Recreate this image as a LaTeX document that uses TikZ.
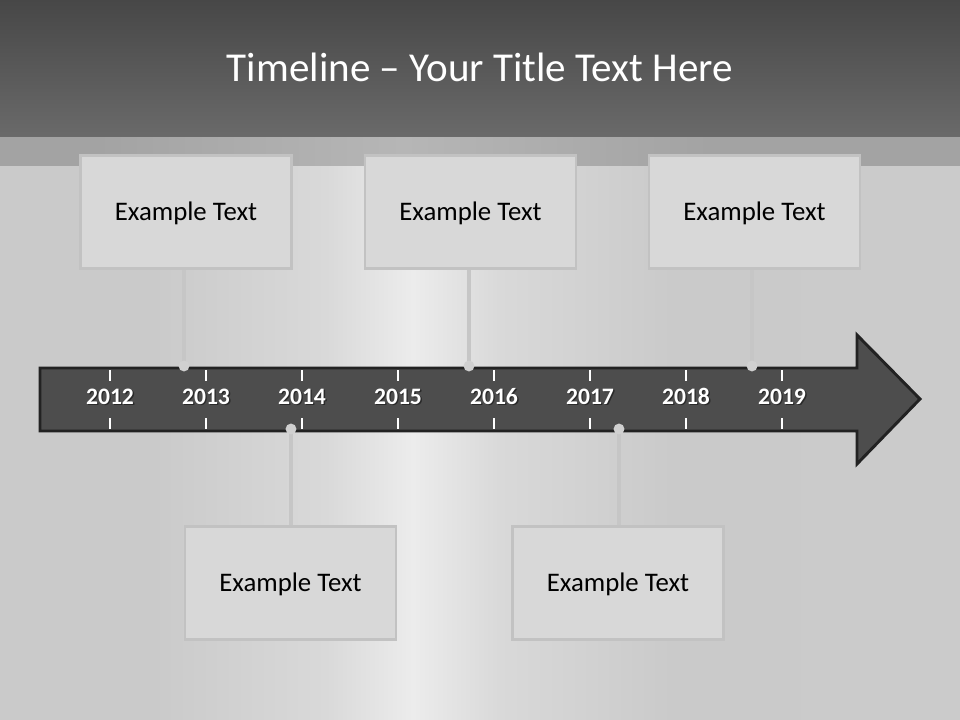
\documentclass[tikz,border=0pt]{standalone}
\usepackage{fontspec}
\setmainfont{Carlito}
\definecolor{bgside}{HTML}{CACACA}
\definecolor{bgside2}{HTML}{CDCDCD}
\definecolor{bgmid}{HTML}{D9D9D9}
\definecolor{bglight}{HTML}{ECECEC}
\definecolor{bandside}{HTML}{A3A3A3}
\definecolor{bandlight}{HTML}{B6B6B6}
\definecolor{titletop}{HTML}{474747}
\definecolor{titlebot}{HTML}{6A6A6A}
\definecolor{boxfill}{HTML}{D8D8D8}
\definecolor{boxline}{HTML}{C2C2C2}
\definecolor{linkc}{HTML}{C6C6C6}
\definecolor{dotc}{HTML}{D0D0D0}
\definecolor{arrowfill}{HTML}{4D4D4D}
\definecolor{arrowline}{HTML}{222222}
\pgfdeclarehorizontalshading{metalbg}{100bp}{color(0bp)=(bgside); color(33bp)=(bgside); color(42bp)=(bgmid); color(46.5bp)=(bglight); color(51bp)=(bgmid); color(60bp)=(bgside); color(100bp)=(bgside2)}
\pgfdeclarehorizontalshading{metalband}{100bp}{color(0bp)=(bandside); color(30bp)=(bandside); color(46bp)=(bandlight); color(62bp)=(bandside); color(100bp)=(bandside)}
\tikzset{
  textbox/.style={draw=boxline, line width=2.2pt, fill=boxfill, minimum width=158.25pt, minimum height=84.75pt, inner sep=0pt, font=\fontsize{20.1pt}{24pt}\selectfont, text=black, text height=12.9pt, text depth=0pt},
  link/.style={draw=linkc, line width=3pt},
  dotmark/.style={fill=dotc},
  tickline/.style={draw=white, line width=1pt},
  year/.style={font=\fontsize{17.7pt}{21pt}\selectfont\bfseries, text=white, anchor=base, inner sep=0pt},
  yearshadow/.style={year, text=black, opacity=0.45},
}
\begin{document}
\begin{tikzpicture}[x=0.75pt,y=-0.75pt]
\useasboundingbox (0,0) rectangle (960,720);
% background
\shade[shading=metalbg] (0,0) rectangle (960,720);
\shade[shading=metalband] (0,137) rectangle (960,166);
\shade[top color=titletop, bottom color=titlebot] (0,0) rectangle (960,137);
\node[text=white, font=\fontsize{30.8pt}{36pt}\selectfont] (title) at (480,67) {Timeline – Your Title Text Here};
% arrow
\draw[fill=arrowfill, draw=arrowline, line width=2.2pt, line join=miter]
  (40,368) -- (857,368) -- (857,335) -- (920,399) -- (857,464) -- (857,431) -- (40,431) -- cycle;
\foreach \i/\y in {0/2012,1/2013,2/2014,3/2015,4/2016,5/2017,6/2018,7/2019}{
  \pgfmathsetmacro{\xx}{110+96*\i}
  \draw[tickline] (\xx,370) -- (\xx,381);
  \draw[tickline] (\xx,418) -- (\xx,429);
  \node[yearshadow] at (\xx+1.3,405.3) {\y};
  \node[year] (y\y) at (\xx,404) {\y};
}
% boxes
\node[textbox] (b1) at (186,212) {Example Text};
\node[textbox] (b2) at (470.5,212) {Example Text};
\node[textbox] (b3) at (754.5,212) {Example Text};
\node[textbox] (b4) at (290.5,583) {Example Text};
\node[textbox] (b5) at (618,583) {Example Text};
% dots
\coordinate (d1) at (184,366);
\coordinate (d2) at (469,366);
\coordinate (d3) at (752,366);
\coordinate (d4) at (291,429);
\coordinate (d5) at (619,429);
\draw[link] (b1.south -| d1) -- (d1);
\draw[link] (b2.south -| d2) -- (d2);
\draw[link] (b3.south -| d3) -- (d3);
\draw[link] (b4.north -| d4) -- (d4);
\draw[link] (b5.north -| d5) -- (d5);
\foreach \d in {d1,d2,d3,d4,d5}{\fill[dotmark] (\d) circle[radius=4.1pt];}
\end{tikzpicture}
\end{document}
